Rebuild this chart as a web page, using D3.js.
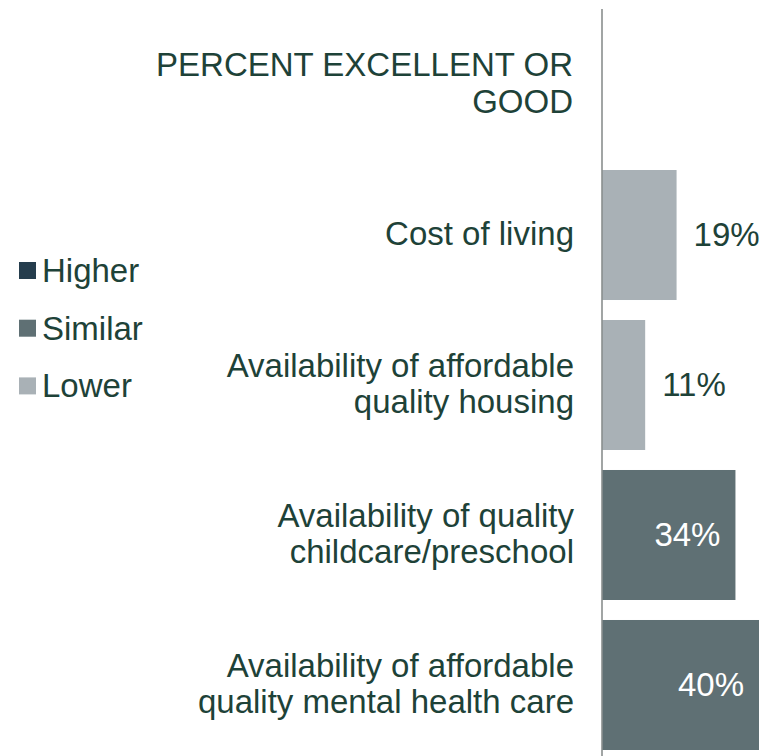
<!DOCTYPE html>
<html>
<head>
<meta charset="utf-8">
<script src="https://cdn.jsdelivr.net/npm/d3@7"></script>
<style>
  html, body { margin: 0; padding: 0; background: #ffffff; }
  svg { display: block; font-family: "Liberation Sans", Arial, sans-serif; }
</style>
</head>
<body>
<svg id="chart" width="762" height="756"></svg>
<script>
// ---- data ----
const titleLines = ["PERCENT EXCELLENT OR", "GOOD"];
const categories = [
  ["Cost of living"],
  ["Availability of affordable", "quality housing"],
  ["Availability of quality", "childcare/preschool"],
  ["Availability of affordable", "quality mental health care"]
];
const values = [19, 11, 34, 40];
const comparison = ["Lower", "Lower", "Similar", "Similar"];
const legendLabels = ["Higher", "Similar", "Lower"];
const legendColors = ["#253D4D", "#5F7074", "#A9B1B6"];

// ---- setup ----
const svg = d3.select("#chart");
const textColor = "#1E4238";
const fontSize = 33;
const lineH = 36.5;

const keys = categories.map((c, i) => "c" + i);
const y = d3.scaleBand().domain(keys).range([160, 760]).paddingInner(0.1333).paddingOuter(0.0667);
const x = d3.scaleLinear().domain([0, 40]).range([602, 759]);
const color = d3.scaleOrdinal().domain(legendLabels).range(legendColors);

// title
svg.append("text")
  .attr("text-anchor", "end")
  .attr("font-size", fontSize)
  .attr("fill", textColor)
  .selectAll("tspan").data(titleLines).join("tspan")
  .attr("x", 573).attr("y", (d, i) => 76 + i * 37)
  .text(d => d);

// bars
const rows = categories.map((c, i) => ({ key: keys[i], lines: c, value: values[i], cmp: comparison[i] }));

svg.append("g").selectAll("rect").data(rows).join("rect")
  .attr("x", x(0))
  .attr("y", d => y(d.key))
  .attr("width", d => x(d.value) - x(0))
  .attr("height", y.bandwidth())
  .attr("fill", d => color(d.cmp));

// category labels
svg.append("g").selectAll("text").data(rows).join("text")
  .attr("text-anchor", "end")
  .attr("font-size", fontSize)
  .attr("fill", textColor)
  .each(function(d) {
    const cy = y(d.key) + y.bandwidth() / 2;
    const n = d.lines.length;
    const first = cy - (n - 1) * lineH / 2 + 10;
    d3.select(this).selectAll("tspan").data(d.lines).join("tspan")
      .attr("x", 574)
      .attr("y", (t, i) => first + i * lineH)
      .text(t => t);
  });

// value labels
svg.append("g").selectAll("text").data(rows).join("text")
  .attr("font-size", fontSize)
  .attr("y", d => y(d.key) + y.bandwidth() / 2 + 11)
  .attr("x", d => d.cmp === "Similar" ? x(d.value) - 15 : x(d.value) + 17)
  .attr("text-anchor", d => d.cmp === "Similar" ? "end" : "start")
  .attr("fill", d => d.cmp === "Similar" ? "#ffffff" : textColor)
  .text(d => d.value + "%");

// axis line
svg.append("line")
  .attr("x1", x(0)).attr("x2", x(0))
  .attr("y1", 9).attr("y2", 756)
  .attr("stroke", "#8A8F8E").attr("stroke-width", 1.6);

// legend
const legend = svg.append("g").selectAll("g").data(legendLabels).join("g")
  .attr("transform", (d, i) => `translate(0, ${270.5 + i * 57.7})`);
legend.append("rect")
  .attr("x", 19).attr("y", -8.5).attr("width", 17).attr("height", 17)
  .attr("fill", d => color(d));
legend.append("text")
  .attr("x", 42).attr("y", 11.5)
  .attr("font-size", fontSize)
  .attr("fill", textColor)
  .text(d => d);
</script>
</body>
</html>
